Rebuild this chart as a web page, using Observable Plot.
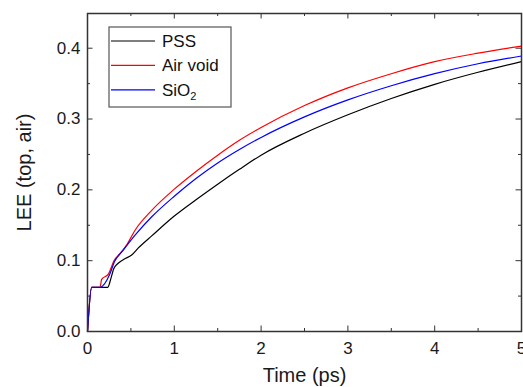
<!DOCTYPE html>
<html><head><meta charset="utf-8">
<script src="https://cdn.jsdelivr.net/npm/d3@7"></script>
<script src="https://cdn.jsdelivr.net/npm/@observablehq/plot@0.6"></script>
<style>body{margin:0;background:#fff}</style>
</head><body><div id="chart"></div>
<script>
const seriesNames = ["PSS", "Air void", "SiO2"];
const seriesColors = ["#000000", "#ff0000", "#0000ff"];

const pssTime = [0, 0.048, 0.233, 0.27, 0.30, 0.35, 0.42, 0.509, 0.586, 0.74, 1.0, 1.25, 1.5, 1.75, 2.0, 2.5, 3.0, 3.5, 4.0, 4.5, 5.0];
const pssLEE  = [0, 0.0624, 0.0624, 0.075, 0.088, 0.096, 0.102, 0.108, 0.118, 0.135, 0.163, 0.186, 0.208, 0.229, 0.249, 0.280, 0.306, 0.329, 0.349, 0.366, 0.381];

const airTime = [0, 0.048, 0.144, 0.163, 0.24, 0.31, 0.36, 0.45, 0.548, 0.74, 1.0, 1.25, 1.5, 1.75, 2.0, 2.5, 3.0, 3.5, 4.0, 4.5, 5.0];
const airLEE  = [0, 0.0624, 0.0624, 0.0737, 0.081, 0.101, 0.108, 0.122, 0.143, 0.171, 0.201, 0.226, 0.249, 0.270, 0.288, 0.319, 0.344, 0.364, 0.381, 0.393, 0.403];

const sioTime = [0, 0.048, 0.144, 0.26, 0.31, 0.40, 0.548, 0.74, 1.0, 1.25, 1.5, 1.75, 2.0, 2.5, 3.0, 3.5, 4.0, 4.5, 5.0];
const sioLEE  = [0, 0.0624, 0.0624, 0.082, 0.0986, 0.113, 0.136, 0.162, 0.191, 0.216, 0.238, 0.257, 0.274, 0.303, 0.327, 0.347, 0.364, 0.378, 0.389];

const xTicks = [0, 1, 2, 3, 4, 5];
const xMinor = [0.5, 1.5, 2.5, 3.5, 4.5];
const yTicks = [0, 0.1, 0.2, 0.3, 0.4];
const yMinor = [0.05, 0.15, 0.25, 0.35];
const xTitle = "Time (ps)";
const yTitle = "LEE (top, air)";

const rows = [];
[[pssTime, pssLEE], [airTime, airLEE], [sioTime, sioLEE]].forEach(([ts, vs], i) => {
  ts.forEach((t, j) => rows.push({series: seriesNames[i], t, v: vs[j]}));
});

const W = 523, H = 387, mL = 87, mR = 2, mT = 13, mB = 56;
const iw = W - mL - mR, ih = H - mT - mB;
const major = 5.5, minor = 3;
const tickColor = "#333";
const font = "'Liberation Sans', Arial, sans-serif";

const chart = Plot.plot({
  width: W, height: H,
  marginLeft: mL, marginRight: mR, marginTop: mT, marginBottom: mB,
  style: {fontFamily: font, color: "#1a1a1a", background: "#fff", overflow: "visible"},
  x: {domain: [0, 5]},
  y: {domain: [0, 0.449]},
  color: {domain: seriesNames, range: seriesColors},
  marks: [
    Plot.line(rows, {x: "t", y: "v", z: "series", stroke: "series", strokeWidth: 1.2, curve: "monotone-x"}),
    // inward ticks on all four sides
    Plot.tickX(xTicks, {x: d => d, insetTop: ih - major, stroke: tickColor}),
    Plot.tickX(xMinor, {x: d => d, insetTop: ih - minor, stroke: tickColor}),
    Plot.tickX(xTicks, {x: d => d, insetBottom: ih - major, stroke: tickColor}),
    Plot.tickX(xMinor, {x: d => d, insetBottom: ih - minor, stroke: tickColor}),
    Plot.tickY(yTicks, {y: d => d, insetRight: iw - major, stroke: tickColor}),
    Plot.tickY(yMinor, {y: d => d, insetRight: iw - minor, stroke: tickColor}),
    Plot.tickY(yTicks, {y: d => d, insetLeft: iw - major, stroke: tickColor}),
    Plot.tickY(yMinor, {y: d => d, insetLeft: iw - minor, stroke: tickColor}),
    Plot.axisX({ticks: xTicks, tickSize: 0, tickPadding: 10, label: null, fontSize: 17, tickFormat: d3.format("d")}),
    Plot.axisY({ticks: yTicks, tickSize: 0, tickPadding: 7, label: null, fontSize: 17, tickFormat: d3.format(".1f")}),
    Plot.frame({stroke: "#333", strokeWidth: 1.5}),
    Plot.text([xTitle], {frameAnchor: "bottom", text: d => d, dy: 44, fontSize: 20, textAnchor: "middle", lineAnchor: "middle", fill: "#1a1a1a"}),
    Plot.text([yTitle], {frameAnchor: "left", text: d => d, dx: -63, rotate: -90, fontSize: 20, textAnchor: "middle", lineAnchor: "middle", fill: "#1a1a1a"})
  ]
});

// Legend inside the frame (upper left)
const svg = d3.select(chart);
const lg = svg.append("g").attr("font-family", font).attr("font-size", 17).attr("text-anchor", "start");
lg.append("rect").attr("x", 109).attr("y", 27).attr("width", 122).attr("height", 80)
  .attr("fill", "#fff").attr("stroke", "#555").attr("stroke-width", 1.2);
seriesNames.forEach((name, i) => {
  const y = 41 + i * 24.4;
  lg.append("line").attr("x1", 111).attr("x2", 155).attr("y1", y).attr("y2", y)
    .attr("stroke", seriesColors[i]).attr("stroke-width", 1.2);
  const t = lg.append("text").attr("x", 162).attr("y", y + 6).attr("fill", "#111").attr("text-anchor", "start");
  if (name === "SiO2") {
    t.append("tspan").text("SiO");
    t.append("tspan").text("2").attr("font-size", 11).attr("dy", 4);
  } else {
    t.text(name);
  }
});

document.getElementById("chart").append(chart);
</script>
</body></html>
